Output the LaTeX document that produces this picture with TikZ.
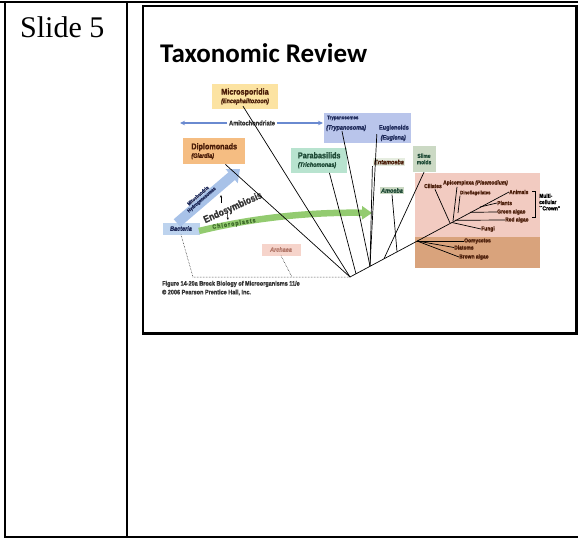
\documentclass[tikz,border=0pt]{standalone}
\usepackage{fontspec}
\setmainfont{Liberation Serif}
\newfontfamily\titlefont{Carlito}
\newfontfamily\lab[FakeStretch=0.85, BoldFeatures={FakeBold=1.2}, BoldItalicFeatures={FakeBold=1.2}]{Liberation Sans}
\usetikzlibrary{arrows.meta,calc}
\definecolor{cYel}{HTML}{FCE3A2}
\definecolor{cOra}{HTML}{F5BD82}
\definecolor{cGrn}{HTML}{B8E3CF}
\definecolor{cBlu}{HTML}{B9C5EB}
\definecolor{cSli}{HTML}{CBD9C4}
\definecolor{cEnt}{HTML}{E6EDE0}
\definecolor{cPink}{HTML}{F2CBC1}
\definecolor{cBrown}{HTML}{D9A37C}
\definecolor{cBac}{HTML}{BDD3EE}
\definecolor{cArc}{HTML}{F6D4CB}
\definecolor{cTxt}{HTML}{4A1C08}
\definecolor{cAmi}{HTML}{6A8AD0}
\definecolor{cMito}{HTML}{A8C2E8}
\definecolor{cChl}{HTML}{93CB70}
\definecolor{cChlT}{HTML}{3E6B2A}
\definecolor{cArcT}{HTML}{B57A6C}
\definecolor{cNavy}{HTML}{1E2A5A}
\definecolor{cTeal}{HTML}{1E4A36}
\definecolor{cGrey}{HTML}{333333}
\begin{document}
\begin{tikzpicture}[x=1pt,y=-1pt,
  big/.style={font=\lab\bfseries\fontsize{8.5}{9}\selectfont, text=cTxt, align=center, inner sep=0pt},
  it/.style={font=\lab\bfseries\itshape\fontsize{6.5}{7}\selectfont},
  sm/.style={font=\lab\bfseries\fontsize{5.8}{6.3}\selectfont, text=cTxt, inner sep=0pt, align=left},
  branch/.style={line width=0.7pt, black},
  tbl/.style={line width=1.5pt, black},
  dotline/.style={line width=0.5pt, black, densely dotted},
  amarrow/.style={line width=1.3pt, cAmi, -{Stealth[length=5pt,width=4.5pt]}}]
\useasboundingbox (0,0) rectangle (578,538);
% table
\draw[line width=2pt] (0,2) -- (578,2);
\draw[tbl] (5,2) -- (5,537) -- (578,537);
\draw[tbl] (127,2) -- (127,537);
% slide frame
\draw[line width=2pt] (143,5.5) rectangle (576,333);
\draw[line width=3pt] (576,5) -- (576,333.5) -- (142,333.5);
\node[anchor=base west, font=\fontsize{30}{30}\selectfont, inner sep=0] (slide) at (20,37) {Slide 5};
\node[anchor=base west, font=\titlefont\bfseries\fontsize{27}{27}\selectfont, inner sep=0] (title) at (160,62.5) {Taxonomic Review};
% background regions
\node[fill=cPink, minimum width=125pt, minimum height=64pt, inner sep=0, anchor=north west] (pink) at (415,173) {};
\node[fill=cBrown, minimum width=125pt, minimum height=31pt, inner sep=0, anchor=north west] (brown) at (415,237) {};
% boxes
\node[big, fill=cYel, minimum width=66pt, minimum height=25pt] (micro) at (245,96.5) {Microsporidia\\[-0.5pt]{\itshape\fontsize{6.5}{7}\selectfont(Encephalitozoon)}};
\node[big, fill=cOra, minimum width=62pt, minimum height=26pt, align=left, anchor=north west, inner sep=3pt] (diplo) at (183,138) {Diplomonads\\[-0.5pt]{\itshape\fontsize{6.5}{7}\selectfont(Giardia)}};
\node[big, fill=cGrn, minimum width=56pt, minimum height=25pt, align=left, anchor=north west, inner sep=3pt, text=cTeal] (para) at (291,147.5) {Parabasilids\\[-0.5pt]{\itshape\fontsize{6.5}{7}\selectfont(Trichomonas)}};
\node[fill=cBlu, minimum width=87pt, minimum height=30pt, inner sep=0, anchor=north west] (tryp) at (324,113) {};
\node[sm, text=cNavy, anchor=west, font=\lab\bfseries\fontsize{5.2}{5.5}\selectfont] (trypA) at (327,118) {Trypanosomes};
\node[sm, text=cNavy, anchor=west, it] (trypB) at (326,128) {(Trypanosoma)};
\node[sm, text=cNavy, anchor=east, font=\lab\bfseries\fontsize{6.5}{7}\selectfont] (eugA) at (409,128) {Euglenoids};
\node[sm, text=cNavy, anchor=east, it] (eugB) at (406,138) {(Euglena)};
\node[sm, fill=cEnt, inner sep=1.5pt, it, text=cTxt] (ent) at (389,162) {Entamoeba};
\node[sm, fill=cSli, inner sep=2pt, align=center, text=cTeal, minimum height=26pt, minimum width=23pt] (slime) at (424,159) {Slime\\molds};
\node[sm, fill=cSli, inner sep=1.5pt, it, text=cTeal, minimum width=24pt] (amoeba) at (392,190.5) {Amoeba};
% amitochondriate
\coordinate (amL) at (180,123);
\coordinate (amR) at (323,123);
\node[sm, fill=white, text=cGrey, inner sep=1.5pt, font=\lab\bfseries\fontsize{6.8}{7}\selectfont] (amito) at (252,123) {Amitochondriate};
\draw[amarrow] (amito.west) -- (amL);
\draw[amarrow] (amito.east) -- (amR);
% bacteria / archaea
\node[sm, fill=cBac, minimum width=37pt, minimum height=12pt, it, text=cNavy] (bac) at (181,228.5) {Bacteria};
\node[sm, fill=cArc, minimum width=39pt, minimum height=12pt, it, text=cArcT] (arc) at (281,249.5) {Archaea};
% mitochondria arrow
\coordinate (mitoS) at (177,223);
\coordinate (mitoT) at (240,169);
\draw[line width=10pt, cMito, -{Triangle[length=11pt,width=18pt]}] (mitoS) -- (mitoT);
\node[sm, rotate=41, align=center, text=cNavy, font=\lab\bfseries\fontsize{5}{5.2}\selectfont] (mitotxt) at (200,198) {Mitochondria\\Hydrogenosomes};
% chloroplast arrow
\coordinate (chlS) at (199,231);
\coordinate (chlT) at (372,213);
\draw[line width=6.5pt, cChl, -{Triangle[length=10pt,width=13pt]}] (chlS) .. controls (260,216) and (320,212) .. (chlT);
\node[sm, rotate=9, text=cChlT, font=\lab\bfseries\fontsize{6.2}{6.5}\selectfont] (chltxt) at (234,224) {C\,h\,l\,o\,r\,o\,p\,l\,a\,s\,t\,s};
% endosymbiosis
\node[sm, rotate=24, text=cGrey, font=\lab\bfseries\fontsize{10}{10}\selectfont] (endo) at (233,208) {Endosymbiosis};
\coordinate (upA) at (221,203);
\coordinate (upB) at (221,195);
\coordinate (dnA) at (227,212);
\coordinate (dnB) at (228,220);
\draw[line width=0.5pt, -{Stealth[length=2.5pt,width=2pt]}] (upA) -- (upB);
\draw[line width=0.5pt, -{Stealth[length=2.5pt,width=2pt]}] (dnA) -- (dnB);
% root and dashed
\coordinate (root) at (350,277);
\coordinate (bend) at (193,277);
\coordinate (arcB) at (292,277);
\draw[dotline] (bac.south) -- (bend) -- (root);
\draw[dotline] (arc.south) -- (arcB);
% caption
\node[sm, anchor=west, text=cGrey, font=\lab\bfseries\fontsize{6.5}{6.5}\selectfont] (cap1) at (162,284) {Figure 14-20a Brock Biology of Microorganisms 11/e};
\node[sm, anchor=west, text=cGrey, font=\lab\bfseries\fontsize{6.5}{6.5}\selectfont] (cap2) at (162,292.5) {\textcopyright\ 2006 Pearson Prentice Hall, Inc.};
% crown labels
\node[sm, anchor=west] (cil) at (424,186) {Ciliates};
\node[sm, anchor=west] (api) at (443,183) {Apicomplexa {\itshape(Plasmodium)}};
\node[sm, anchor=west, font=\lab\bfseries\fontsize{5}{5}\selectfont] (dino) at (460,193) {Dinoflagellates};
\node[sm, anchor=west] (anim) at (509,192) {Animals};
\node[sm, anchor=west] (plants) at (497,203) {Plants};
\node[sm, anchor=west] (green) at (497,212) {Green algae};
\node[sm, anchor=west] (red) at (505,220) {Red algae};
\node[sm, anchor=west] (fungi) at (481,229) {Fungi};
\node[sm, anchor=west, text=black] (multi) at (539,202) {Multi-\\cellular\\``Crown''};
\node[sm, anchor=west] (oomy) at (464,241) {Oomycetes};
\node[sm, anchor=west] (diat) at (454,247.5) {Diatoms};
\node[sm, anchor=west] (bralg) at (459,257) {Brown algae};
% bracket
\coordinate (brT) at (535,191);
\coordinate (brB) at (535,217);
\draw[line width=0.6pt] ($(brT)+(-3,0)$) -- (brT) -- (brB) -- ($(brB)+(-3,0)$);
% trunk
\coordinate (B) at (417,241);
\coordinate (C) at (450,223);
\coordinate (n1) at (370,266.2);
\coordinate (n2) at (384,258.7);
\coordinate (n3) at (397,251.7);
\coordinate (n0) at (356,273.8);
\draw[branch] (root) -- (anim.west);
% branches
\draw[branch] ($(micro.south)+(-2,-3)$) -- (root);
\draw[branch] ($(diplo.south east)+(-20,0)$) -- (root);
\draw[branch] ($(para.south east)+(-18,0)$) -- (n0);
\draw[branch] ($(trypB.south west)+(16,0)$) -- (n1);
\draw[branch] ($(eugA.south west)+(-2,3)$) -- (n1);
\draw[branch] (ent.south west) -- (n1);
\draw[branch] (slime.south) -- (n2);
\draw[branch] (amoeba.south) -- (n3);
\draw[branch] (B) -- (oomy.west);
\draw[branch] (B) -- (diat.west);
\draw[branch] (B) -- (bralg.west);
\draw[branch] (C) -- ($(cil.south)+(2,1)$);
\draw[branch] ($(C)+(3,-2)$) -- ($(api.south west)+(14,1)$);
\draw[branch] ($(C)+(8,-10)$) -- (dino.south west);
\draw[branch] (480,207) -- (plants.west);
\draw[branch] (470,212.3) -- (green.west);
\draw[branch] (455,220.3) -- (red.west);
\draw[branch] (452,222.5) -- (fungi.west);
\end{tikzpicture}
\end{document}
